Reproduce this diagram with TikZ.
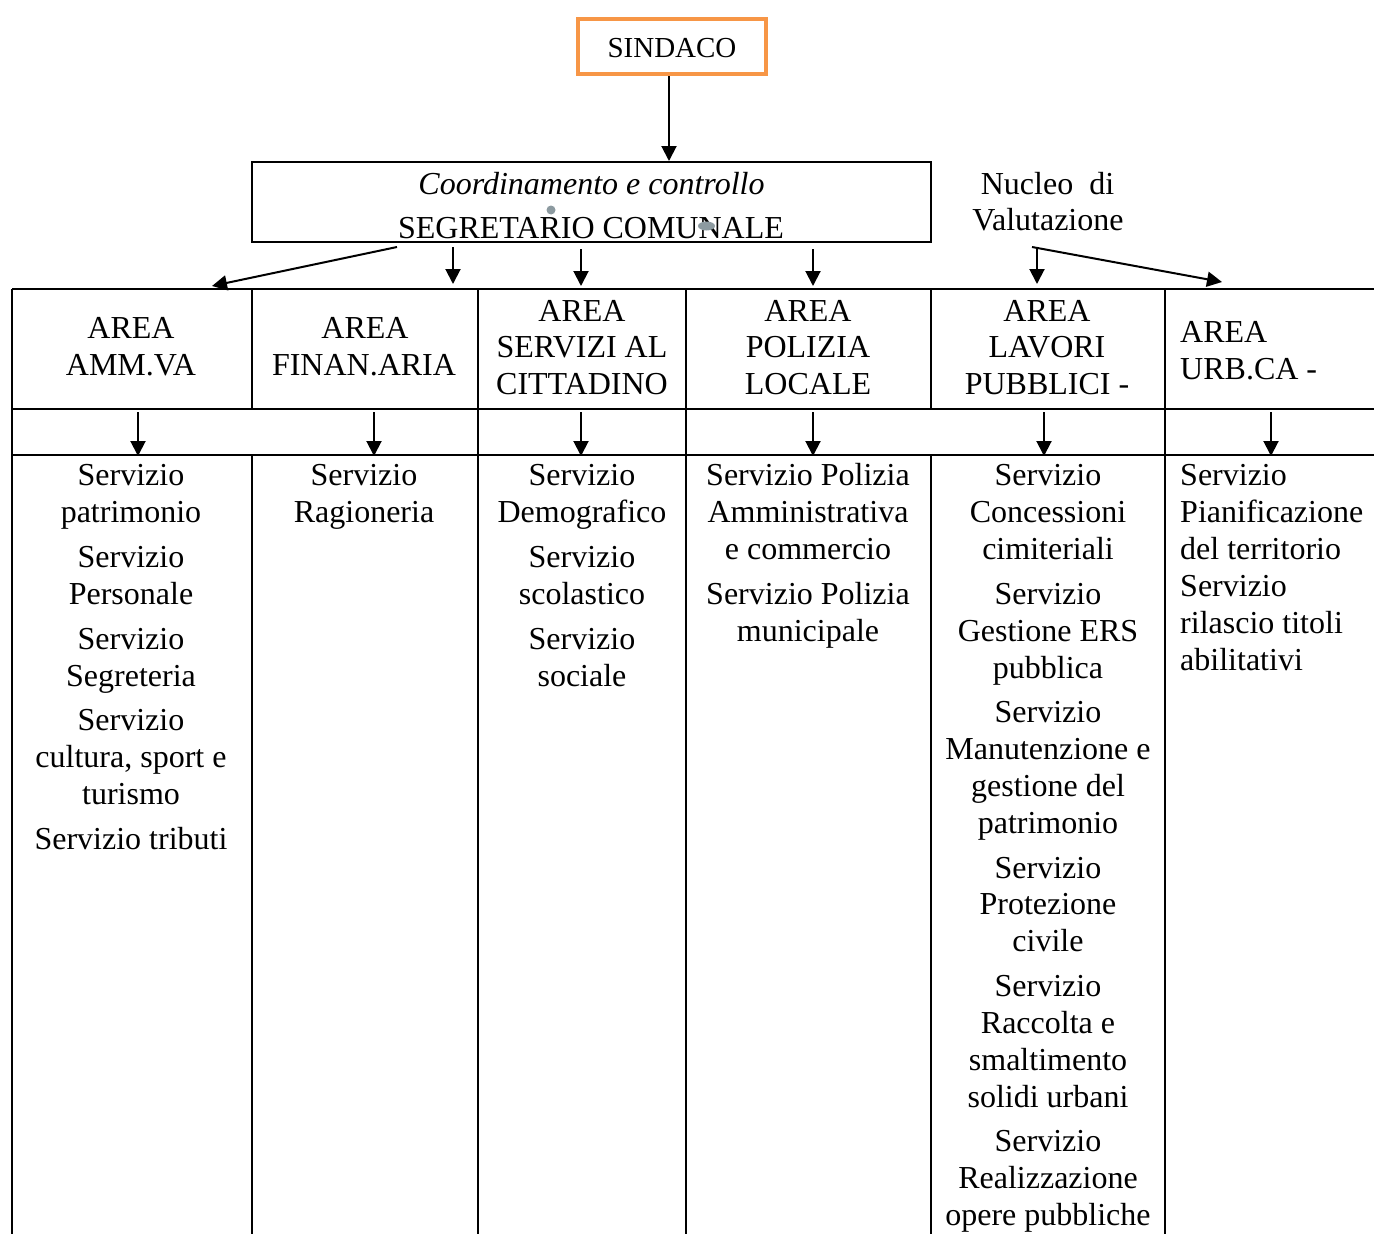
\documentclass[tikz,border=0pt]{standalone}
\usepackage{fontspec}
\setmainfont{Liberation Serif}
\usetikzlibrary{arrows.meta}
\definecolor{boxorange}{HTML}{F79646}
\definecolor{dotgray}{HTML}{8C9AA0}
\tikzset{
  txt/.style={inner sep=0pt, anchor=base, font=\fontsize{32}{37}\selectfont},
  ltxt/.style={txt, anchor=base west},
  arr/.style={draw, line width=2pt, -{Triangle[length=15pt,width=15pt]}},
  grid/.style={line width=2pt},
}
\begin{document}
\begin{tikzpicture}[x=1pt,y=-1pt]
\useasboundingbox (0,0) rectangle (1374,1234);
% top boxes
\node[draw=boxorange, line width=4pt, minimum width=188pt, minimum height=55pt, inner sep=0pt] (sind) at (672,46.5) {};
\node[txt, font=\fontsize{29}{34}\selectfont] (sindt) at (672,57) {SINDACO};
\node[draw, line width=2pt, minimum width=679pt, minimum height=80pt, inner sep=0pt] (coord) at (591.5,202) {};
\node[txt, font=\fontsize{32}{37}\selectfont\itshape] (coordt) at (591.5,194) {Coordinamento e controllo};
\node[txt] (segr) at (591,238) {SEGRETARIO COMUNALE};
\fill[dotgray] (551,210) circle (4.5pt);
\fill[dotgray] (706.5,226) ellipse (8.5pt and 4.5pt);
\node[txt] (nuc1) at (1047.5,194) {Nucleo\ \ di};
\node[txt] (nuc2) at (1048,230) {Valutazione};
\draw[arr] (sind.south -| 669,0) -- (669,161) coordinate (coordtop);
% table grid
\draw[grid] (12,289) -- (1374,289);
\draw[grid] (12,409) -- (1374,409);
\draw[grid] (12,455) -- (1374,455);
\draw[grid] (12,289) -- (12,1234);
\draw[grid] (252,289) -- (252,409);
\draw[grid] (252,455) -- (252,1234);
\draw[grid] (478,289) -- (478,1234);
\draw[grid] (686,289) -- (686,1234);
\draw[grid] (931,289) -- (931,409);
\draw[grid] (931,455) -- (931,1234);
\draw[grid] (1165,289) -- (1165,1234);
% arrows from coordination
\coordinate (d1s) at (397,247); \coordinate (d1e) at (212,286);
\coordinate (v1s) at (453,247); \coordinate (v1e) at (453,284);
\coordinate (v2s) at (581,249); \coordinate (v2e) at (581,286);
\coordinate (v3s) at (813,249); \coordinate (v3e) at (813,286);
\coordinate (v4s) at (1037,247); \coordinate (v4e) at (1037,284);
\coordinate (d2s) at (1032,247); \coordinate (d2e) at (1222,282);
\draw[arr] (d1s) -- (d1e);
\draw[arr] (v1s) -- (v1e);
\draw[arr] (v2s) -- (v2e);
\draw[arr] (v3s) -- (v3e);
\draw[arr] (v4s) -- (v4e);
\draw[arr] (d2s) -- (d2e);
% area headers
\node[txt] (a1a) at (131,338) {AREA};
\node[txt] (a1b) at (131,375) {AMM.VA};
\node[txt] (a2a) at (365,338) {AREA};
\node[txt] (a2b) at (364,375) {FINAN.ARIA};
\node[txt] (a3a) at (582,321) {AREA};
\node[txt] (a3b) at (582,357) {SERVIZI AL};
\node[txt] (a3c) at (582,394) {CITTADINO};
\node[txt] (a4a) at (808,321) {AREA};
\node[txt] (a4b) at (808,357) {POLIZIA};
\node[txt] (a4c) at (808,394) {LOCALE};
\node[txt] (a5a) at (1047,321) {AREA};
\node[txt] (a5b) at (1047,357) {LAVORI};
\node[txt] (a5c) at (1047,394) {PUBBLICI -};
\node[ltxt] (a6a) at (1180,342) {AREA};
\node[ltxt] (a6b) at (1180,379) {URB.CA -};
% arrows to services
\foreach \x/\i in {138/1,374/2,581/3,813/4,1044/5,1271/6}{
  \coordinate (ls\i) at (\x,412);
  \coordinate (le\i) at (\x,456);
  \draw[arr] (ls\i) -- (le\i);
}
% services
\foreach \y/\t [count=\i] in {485/Servizio,522/patrimonio,567/Servizio,604/Personale,649/Servizio,686/Segreteria,730/Servizio,767/{cultura, sport e},804/turismo,849/Servizio tributi}
  {\node[txt] (s1\i) at (131,\y) {\t};}
\foreach \y/\t [count=\i] in {485/Servizio,522/Ragioneria}
  {\node[txt] (s2\i) at (364,\y) {\t};}
\foreach \y/\t [count=\i] in {485/Servizio,522/Demografico,567/Servizio,604/scolastico,649/Servizio,686/sociale}
  {\node[txt] (s3\i) at (582,\y) {\t};}
\foreach \y/\t [count=\i] in {485/Servizio Polizia,522/Amministrativa,559/e commercio,604/Servizio Polizia,641/municipale}
  {\node[txt] (s4\i) at (808,\y) {\t};}
\foreach \y/\t [count=\i] in {485/Servizio,522/Concessioni,559/cimiteriali,604/Servizio,641/Gestione ERS,678/pubblica,722/Servizio,759/Manutenzione e,796/gestione del,833/patrimonio,878/Servizio,914/Protezione,951/civile,996/Servizio,1033/Raccolta e,1070/smaltimento,1107/solidi urbani,1151/Servizio,1188/Realizzazione,1225/opere pubbliche}
  {\node[txt] (s5\i) at (1048,\y) {\t};}
\foreach \y/\t [count=\i] in {485/Servizio,522/Pianificazione,559/del territorio,596/Servizio,633/rilascio titoli,670/abilitativi}
  {\node[ltxt] (s6\i) at (1180,\y) {\t};}
\end{tikzpicture}
\end{document}
